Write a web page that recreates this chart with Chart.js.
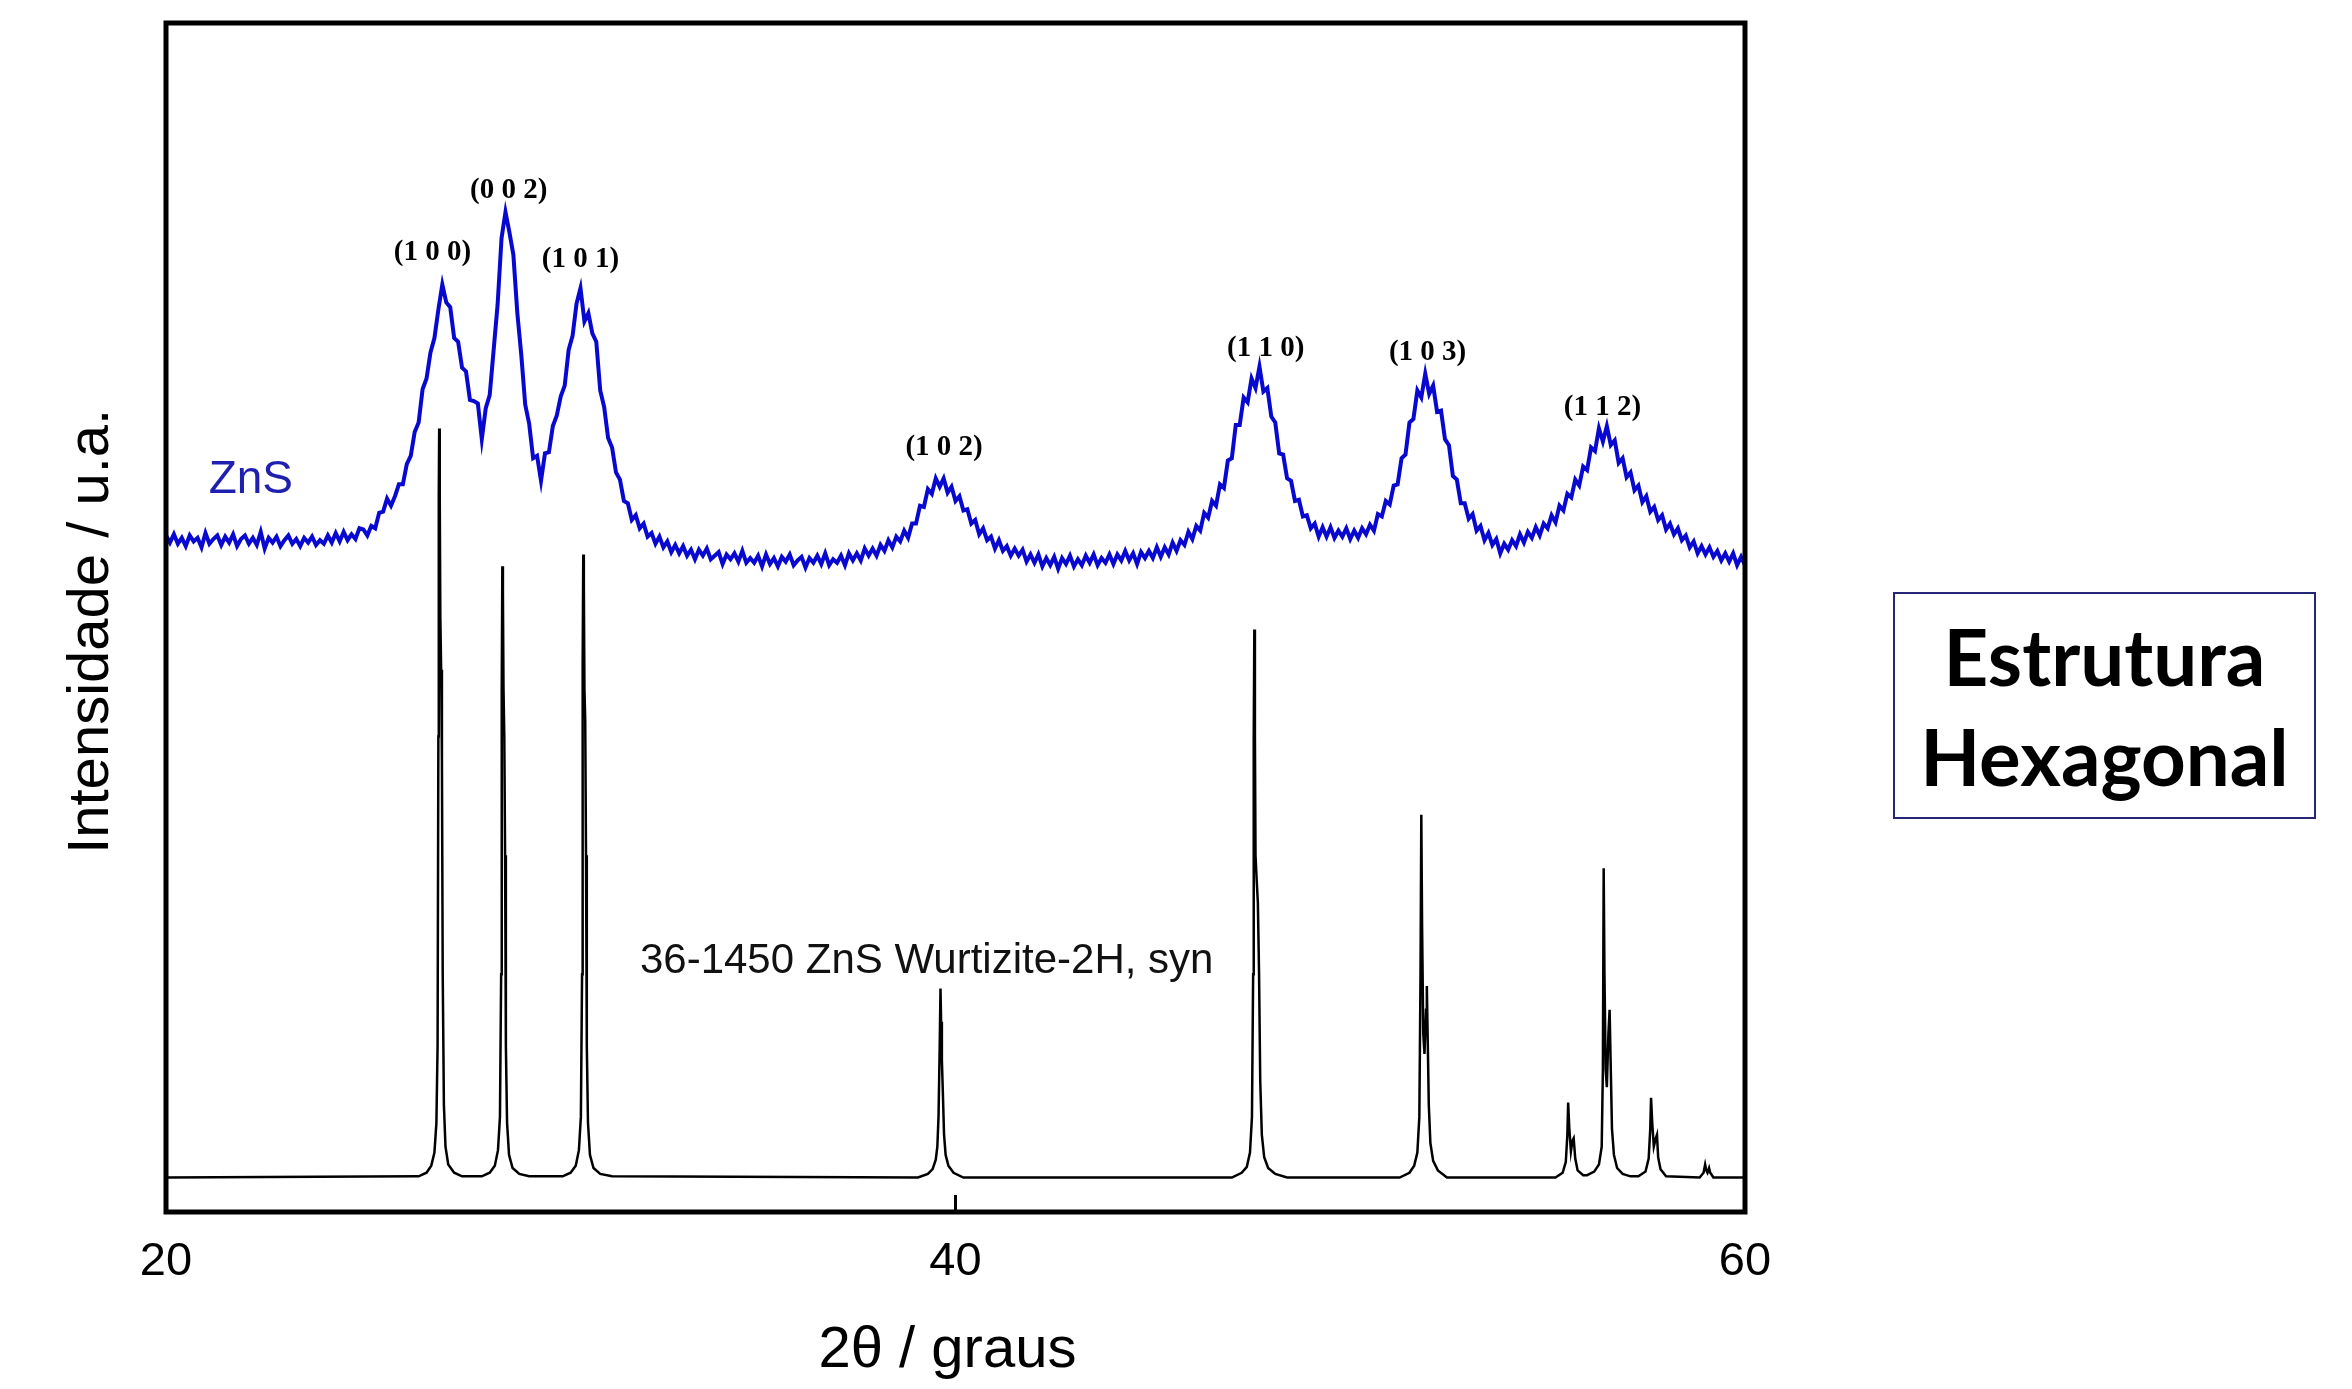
<!DOCTYPE html>
<html><head><meta charset="utf-8">
<script src="https://cdn.jsdelivr.net/npm/chart.js@4.4.1/dist/chart.umd.min.js"></script>
<style>
html,body{margin:0;padding:0;background:#fff;}
#wrap{position:relative;width:2352px;height:1389px;overflow:hidden;}
#c{position:absolute;left:0;top:0;}
#box{position:absolute;left:1893px;top:592px;width:423px;height:227px;border:2px solid #262678;box-sizing:border-box;
 font-family:Lato,"Open Sans",sans-serif;font-weight:bold;font-size:78px;line-height:100px;text-align:center;color:#000;padding-top:12px;}
</style></head><body>
<div id="wrap"><canvas id="c" width="2352" height="1389"></canvas>
<div id="box">Estrutura<br>Hexagonal</div></div>
<script>
// x axis tick values
const xTickValues = [20, 40, 60];

// ZnS measured pattern: 2theta sampled from 20 to 60 in 0.1 degree steps
const znsStart = 20;
const znsStep = 0.1;
const znsIntensity = [
56.9,56.3,57.0,56.2,56.7,56.0,56.9,56.4,56.7,55.9,
57.1,56.2,56.6,56.9,56.1,56.8,56.3,57.0,56.0,56.6,
56.9,56.2,56.7,56.1,57.2,55.8,56.7,56.3,56.8,56.0,
56.5,56.9,56.2,56.6,56.0,56.7,56.3,56.8,56.1,56.5,
56.2,56.9,56.3,57.1,56.4,57.2,56.5,57.0,56.6,57.5,
57.4,56.9,57.7,57.5,58.8,58.9,60.0,59.4,60.2,61.2,
61.2,62.9,63.6,65.6,66.4,69.2,70.1,72.3,73.5,75.9,
78.0,76.5,76.1,73.5,73.2,71.0,70.7,68.3,68.2,68.0,
65.0,67.6,68.7,72.5,76.3,81.9,84.1,82.4,80.5,75.6,
72.1,67.9,66.3,63.4,63.6,61.5,63.8,63.9,66.1,67.0,
68.6,69.5,72.5,73.7,76.4,77.7,74.9,75.6,73.9,73.2,
69.1,67.7,65.1,64.3,62.2,61.6,59.8,59.6,58.2,58.6,
57.5,57.9,56.8,57.1,56.2,56.8,55.9,56.4,55.5,56.1,
55.4,56.0,55.2,55.7,54.9,55.7,55.2,55.8,54.9,55.2,
55.5,54.5,55.3,54.9,55.4,54.7,55.6,54.6,55.0,54.6,
55.2,54.3,55.3,54.5,55.0,54.3,55.1,54.7,55.3,54.4,
54.8,55.1,54.2,55.0,54.6,55.2,54.5,55.4,54.4,54.9,
54.6,55.2,54.4,55.4,54.8,55.4,54.8,55.8,55.2,55.8,
55.2,56.1,55.6,56.5,55.9,56.8,56.4,57.3,56.7,57.9,
57.9,59.4,59.3,60.8,60.4,61.7,61.0,61.7,60.5,61.0,
59.8,60.2,59.0,59.1,57.9,58.2,57.0,57.5,56.5,56.8,
55.8,56.5,55.6,56.0,55.2,55.8,55.2,55.7,54.7,55.3,
54.6,55.3,54.3,55.0,54.4,55.1,54.1,55.0,54.5,55.2,
54.3,54.9,54.4,55.2,54.6,55.3,54.4,55.0,54.6,55.3,
54.5,55.3,54.8,55.6,54.8,55.4,54.5,55.5,55.0,55.6,
55.0,55.9,55.1,55.9,55.3,56.3,55.6,56.5,56.1,57.2,
56.6,57.7,57.3,58.8,58.4,59.8,59.4,61.2,60.9,63.2,
63.4,66.2,66.2,68.5,68.1,70.1,69.3,71.1,69.0,69.3,
66.9,66.4,63.8,63.7,61.7,61.5,59.8,59.9,58.5,58.6,
57.5,57.9,56.8,57.6,56.8,57.6,56.7,57.3,56.8,57.5,
56.6,57.3,56.7,57.5,57.0,57.8,57.3,58.7,58.5,59.8,
59.5,61.1,61.2,63.4,63.7,66.4,66.7,69.1,68.5,70.5,
68.8,69.5,67.3,67.4,65.0,64.5,61.9,61.6,59.6,59.6,
58.3,58.7,57.3,57.7,56.5,57.1,56.1,56.6,55.4,56.2,
55.7,56.5,56.0,57.0,56.3,57.2,56.7,57.6,56.9,57.9,
57.5,58.6,58.0,59.4,59.0,60.4,60.1,61.6,61.1,62.7,
62.4,64.3,64.0,65.9,64.8,66.1,64.5,64.9,63.0,63.4,
61.8,62.2,60.7,61.1,59.7,60.2,58.9,59.3,58.2,58.6,
57.4,57.9,57.0,57.5,56.5,56.9,55.9,56.4,55.4,56.0,
55.3,55.9,55.1,55.6,54.8,55.4,54.7,55.4,54.4,55.1,
54.4
];

// Reference pattern 36-1450 ZnS Wurtzite-2H (2theta, intensity)
const refTheta = [
20.0,26.40,26.60,26.72,26.80,26.85,26.88,26.90,26.91,26.92,26.935,26.95,26.97,26.99,27.01,27.04,27.08,27.15,27.30,27.50,
28.00,28.20,28.33,28.41,28.46,28.49,28.505,28.52,28.535,28.55,28.57,28.59,28.61,28.64,28.69,28.78,28.95,29.20,
30.05,30.25,30.38,30.46,30.51,30.54,30.555,30.57,30.585,30.60,30.62,30.64,30.66,30.69,30.74,30.83,31.00,31.30,
39.05,39.30,39.42,39.50,39.54,39.57,39.60,39.62,39.635,39.655,39.68,39.71,39.75,39.82,39.95,40.20,
47.00,47.25,47.38,47.46,47.51,47.54,47.555,47.57,47.585,47.60,47.63,47.66,47.69,47.72,47.76,47.82,47.92,48.10,48.40,
51.25,51.50,51.62,51.70,51.75,51.78,51.80,51.82,51.85,51.88,51.92,51.94,51.96,51.99,52.03,52.10,52.22,52.45,
55.20,55.38,55.46,55.50,55.52,55.55,55.59,55.63,55.66,55.70,55.76,55.90,
56.00,56.18,56.30,56.37,56.40,56.42,56.44,56.47,56.50,56.54,56.57,56.60,56.63,56.68,56.76,56.90,57.10,
57.30,57.48,57.56,57.60,57.62,57.65,57.69,57.74,57.77,57.80,57.86,58.00,
58.85,58.95,58.99,59.02,59.05,59.09,59.12,59.20,60.00
];
const refIntensity = [
2.9,3.0,3.3,3.9,5.0,7.5,14,40,60,65.9,60,50,45.6,38,20,9,5.5,4.0,3.3,3.0,
3.0,3.3,3.9,5.2,8,20,44,54.3,52,44,40,30,14,7.5,4.8,3.7,3.2,3.0,
3.0,3.3,3.9,5.2,8,20,46,55.3,52.9,44,41.4,30,14,7.5,4.8,3.7,3.2,3.0,
2.9,3.2,3.6,4.4,5.5,8,14,18.8,16,12.8,10,6.5,4.8,3.9,3.3,2.9,
2.9,3.3,3.8,5.0,8,20,40,49.0,40,30,27.9,26,20,11,6.5,4.6,3.7,3.2,2.9,
2.9,3.3,3.9,5.0,8,20,33.4,24,15,13.3,17,19.0,15,9,5.8,4.3,3.5,2.9,
2.9,3.3,4.2,6.5,9.2,7,5.1,6.0,6.2,4.5,3.5,3.1,
3.1,3.4,4.0,5.5,12,28.9,20,12,10.5,15,17.0,12,7,4.8,3.7,3.2,3.0,
3.0,3.4,4.5,7,9.6,7.5,5.5,6.2,6.5,4.6,3.6,3.0,
2.9,3.3,4.0,3.5,3.3,3.7,3.3,2.9,2.9
];

// Peak (hkl) labels
const hklText  = ['(1 0 0)','(0 0 2)','(1 0 1)','(1 0 2)','(1 1 0)','(1 0 3)','(1 1 2)'];
const hklTheta = [26.75, 28.68, 30.50, 39.71, 47.86, 51.96, 56.39];
const hklY     = [80.7, 85.9, 80.1, 64.3, 72.6, 72.3, 67.7];

const znsPoints = znsIntensity.map((v, i) => ({x: +(znsStart + i * znsStep).toFixed(2), y: v}));
const refPoints = refTheta.map((t, i) => ({x: t, y: refIntensity[i]}));

const decor = {
  id: 'decor',
  afterDatasetsDraw(chart) {
    const {ctx, chartArea: {left, right, top, bottom}, scales: {x, y}} = chart;
    ctx.save();
    ctx.strokeStyle = '#000';
    ctx.lineWidth = 5;
    ctx.strokeRect(left, top, right - left, bottom - top);
    ctx.lineWidth = 3;
    xTickValues.forEach(v => {
      const px = x.getPixelForValue(v);
      ctx.beginPath(); ctx.moveTo(px, bottom); ctx.lineTo(px, bottom - 17); ctx.stroke();
    });
    ctx.textAlign = 'center';
    ctx.textBaseline = 'middle';
    ctx.fillStyle = '#000';
    ctx.font = 'bold 29px "Liberation Serif", "Times New Roman", serif';
    hklText.forEach((t, i) => ctx.fillText(t, x.getPixelForValue(hklTheta[i]), y.getPixelForValue(hklY[i])));
    ctx.font = '46px "Liberation Sans", Arial, sans-serif';
    ctx.fillStyle = '#1f1fb0';
    ctx.fillText('ZnS', x.getPixelForValue(22.15), y.getPixelForValue(61.5));
    ctx.font = '42px "Liberation Sans", Arial, sans-serif';
    ctx.fillStyle = '#111';
    ctx.fillText('36-1450 ZnS Wurtizite-2H, syn', x.getPixelForValue(39.27), y.getPixelForValue(21.1));
    ctx.restore();
  }
};

Chart.defaults.font.family = '"Liberation Sans", Arial, sans-serif';
new Chart(document.getElementById('c'), {
  type: 'line',
  data: {
    datasets: [
      {label: 'ZnS', data: znsPoints, borderColor: '#0808d0', borderWidth: 4, pointRadius: 0, tension: 0},
      {label: '36-1450 ZnS Wurtizite-2H, syn', data: refPoints, borderColor: '#000', borderWidth: 2.5, pointRadius: 0, tension: 0}
    ]
  },
  options: {
    responsive: false,
    animation: false,
    layout: {padding: {left: 0, top: 23, right: 607, bottom: 0}},
    plugins: {legend: {display: false}, tooltip: {enabled: false}},
    scales: {
      x: {
        type: 'linear', min: 20, max: 60,
        afterBuildTicks: s => { s.ticks = xTickValues.map(v => ({value: v})); },
        grid: {display: false, drawTicks: false},
        border: {display: false},
        ticks: {font: {size: 47}, color: '#000', padding: 22, maxRotation: 0, autoSkip: false},
        title: {display: true, text: '2θ / graus\u00a0', font: {size: 58}, color: '#000', padding: {top: 0, bottom: 3}},
        afterFit: s => { s.height = 177; }
      },
      y: {
        type: 'linear', min: 0, max: 100,
        ticks: {display: false},
        grid: {display: false, drawTicks: false},
        border: {display: false},
        title: {display: true, text: 'Intensidade / u.a.\u00a0\u2009', font: {size: 58}, color: '#000', padding: {top: 57, bottom: 0}},
        afterFit: s => { s.width = 166; }
      }
    }
  },
  plugins: [decor]
});
</script>
</body></html>
